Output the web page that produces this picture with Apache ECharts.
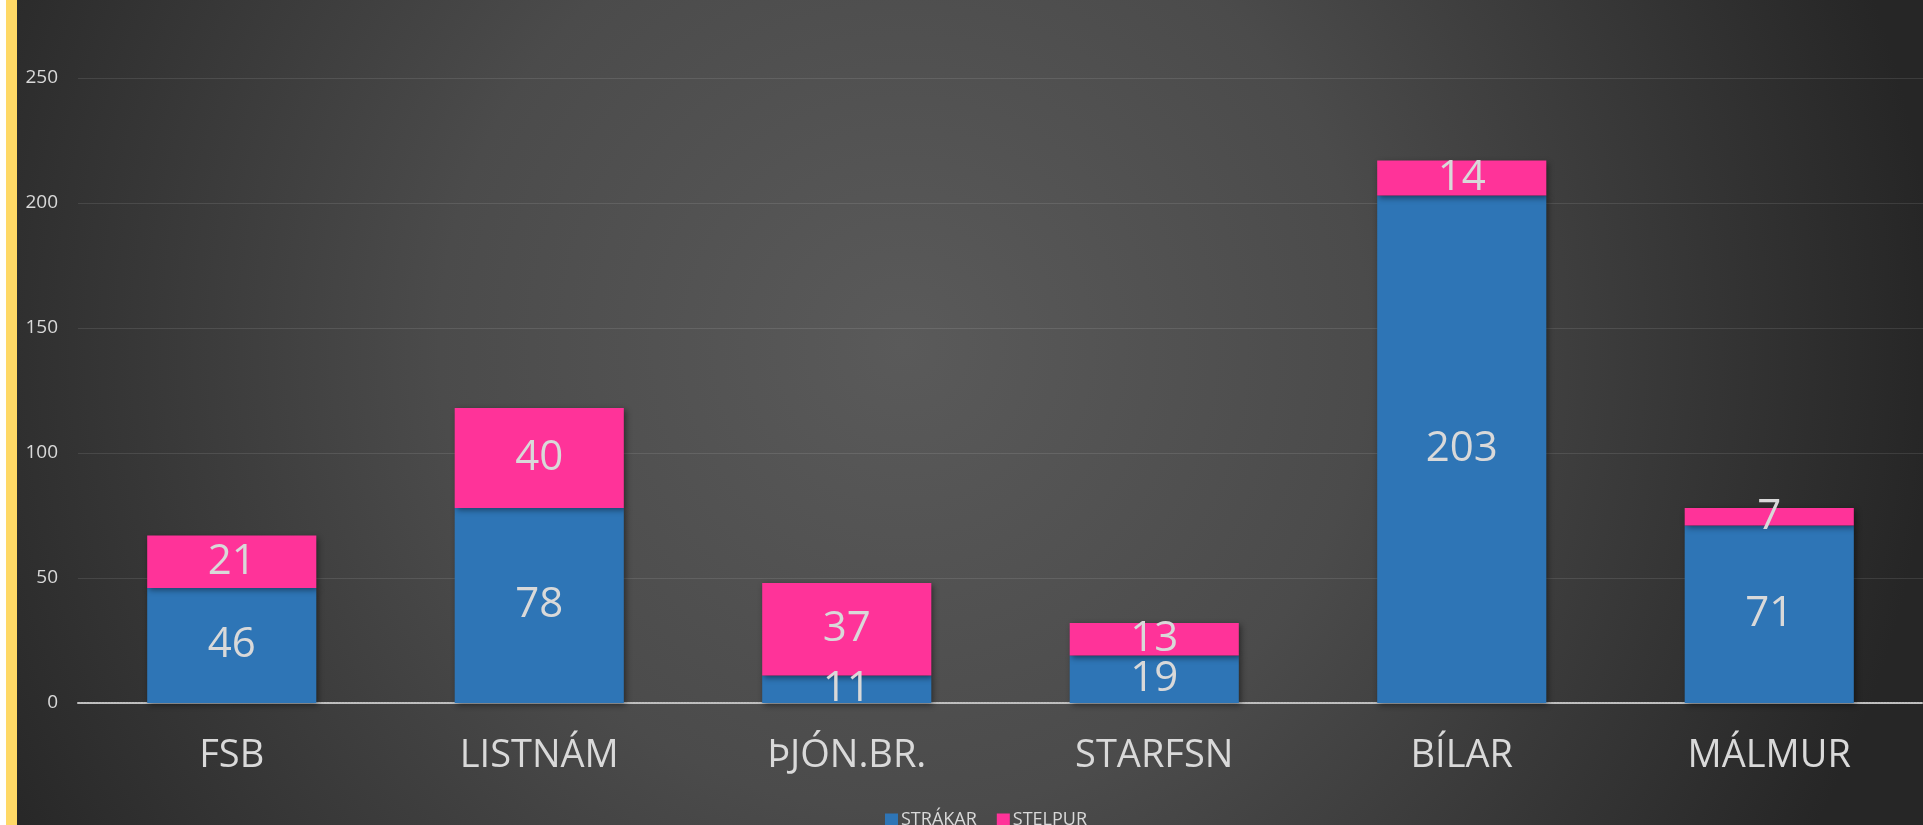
<!DOCTYPE html>
<html>
<head>
<meta charset="utf-8">
<script src="https://cdn.jsdelivr.net/npm/echarts@6/dist/echarts.min.js"></script>
<style>
  html, body { margin: 0; padding: 0; background: #fff; }
  #chart { width: 1923px; height: 825px; }
</style>
</head>
<body>
<div id="chart"></div>
<script>
var categories = ['FSB', 'LISTNÁM', 'ÞJÓN.BR.', 'STARFSN', 'BÍLAR', 'MÁLMUR'];
var strakar = [46, 78, 11, 19, 203, 71];
var stelpur = [21, 40, 37, 13, 14, 7];
var seriesNames = ['STRÁKAR', 'STELPUR'];

var fontName = '"Open Sans", "Noto Sans", sans-serif';
var textColor = '#d9d9d9';

var myChart = echarts.init(document.getElementById('chart'));
var option = {
    backgroundColor: {
        type: 'radial', x: 0.47, y: 0.42, r: 1.25,
        colorStops: [
            { offset: 0, color: '#5a5a5a' },
            { offset: 0.45, color: '#4b4b4b' },
            { offset: 1, color: '#262626' }
        ]
    },
    textStyle: { fontFamily: fontName },
    graphic: [
        // white edge and yellow strip at the left
        { type: 'rect', left: 0, top: 0, shape: { width: 6, height: 825 }, style: { fill: '#ffffff' } },
        { type: 'rect', left: 6, top: 0, shape: { width: 11, height: 825 }, style: { fill: '#ffd966' } }
    ],
    legend: {
        data: seriesNames,
        left: 880,
        top: 806,
        itemWidth: 13,
        itemHeight: 13,
        itemGap: 20,
        icon: 'rect',
        textStyle: { color: textColor, fontSize: 18, fontFamily: fontName, padding: [0, 0, 0, -2] }
    },
    grid: {
        left: 78,
        right: 0,
        top: 78,
        bottom: 122,
        containLabel: false
    },
    xAxis: {
        type: 'category',
        data: categories,
        axisTick: { show: false },
        axisLine: { show: true, lineStyle: { color: '#bfbfbf', width: 2, type: [2, 1] } },
        axisLabel: { color: textColor, fontSize: 38, margin: 34, fontFamily: fontName }
    },
    yAxis: {
        type: 'value',
        min: 0,
        max: 250,
        interval: 50,
        axisLine: { show: false },
        axisTick: { show: false },
        axisLabel: { color: textColor, fontSize: 19, margin: 20, fontFamily: fontName },
        splitLine: { lineStyle: { color: 'rgba(255,255,255,0.1)', width: 1 } }
    },
    series: [
        {
            name: seriesNames[0],
            type: 'bar',
            stack: 'total',
            barCategoryGap: '45%',
            data: strakar,
            itemStyle: { color: '#2e75b6', shadowColor: 'rgba(0,0,0,0.45)', shadowBlur: 6, shadowOffsetX: 2, shadowOffsetY: 2 },
            label: { show: true, position: 'inside', color: textColor, fontSize: 42, fontFamily: fontName }
        },
        {
            name: seriesNames[1],
            type: 'bar',
            stack: 'total',
            data: stelpur,
            itemStyle: { color: '#ff3399', shadowColor: 'rgba(0,0,0,0.45)', shadowBlur: 6, shadowOffsetX: 2, shadowOffsetY: 2 },
            label: { show: true, position: 'inside', color: textColor, fontSize: 42, fontFamily: fontName }
        }
    ]
};
myChart.setOption(option);
</script>
</body>
</html>
